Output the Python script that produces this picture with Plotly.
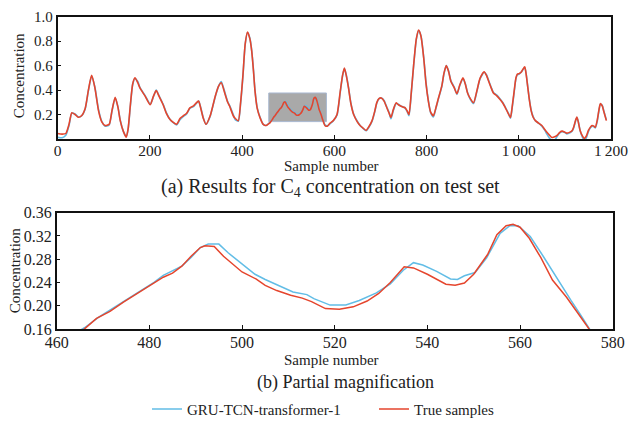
import plotly.graph_objects as go

# ---------------- data ----------------
true_samples = [0, 10, 18, 25, 31, 38, 45, 52, 60, 67, 74, 81, 89, 96, 103, 112, 118, 125, 131, 136,
                143, 149, 153, 158, 163, 168, 174, 179, 190, 201, 208, 214, 220, 229, 236, 244, 258, 266,
                273, 280, 287, 295, 302, 306, 310, 316, 322, 331, 342, 349, 355, 363, 369, 373, 381, 385,
                392, 397, 402, 407, 412, 417, 421, 425, 428, 433, 439, 446, 452, 458,
                460, 463, 466, 468.6, 471.5, 474.4, 477.3, 480, 483, 485, 487, 489, 491, 492, 494, 496,
                498, 500, 503, 505, 507.5, 510.5, 513, 515, 518, 521, 524, 527, 529.5, 532, 535, 537,
                540, 542, 544, 546, 548, 550, 553, 555, 557, 558.5, 560, 562, 564.5, 567, 570, 572.5,
                575, 578, 580,
                585, 591, 598, 606, 613, 618, 622, 626, 631, 636, 642, 650, 656, 662, 669, 675, 682, 688,
                692, 697, 702, 708, 714, 719, 723, 728, 734, 739, 744, 750, 754, 758, 762, 767, 772, 778,
                783, 788, 794, 799, 804, 809, 815, 820, 826, 833, 838, 843, 848, 853, 860, 866, 872, 879,
                884, 889, 895, 902, 909, 916, 925, 930, 935, 940, 945, 952, 960, 966, 971, 977, 982, 986,
                990, 994, 997, 1001, 1005, 1009, 1013, 1016, 1019, 1023, 1027, 1031, 1036, 1043, 1050,
                1056, 1061, 1067, 1072, 1078, 1083, 1089, 1094, 1099, 1104, 1111, 1116, 1119, 1123, 1126,
                1129, 1133, 1138, 1142, 1146, 1151, 1155, 1159, 1163, 1166, 1170, 1174, 1177, 1181, 1184,
                1187, 1190]
true_values = [0.045, 0.040, 0.045, 0.120, 0.215, 0.200, 0.178, 0.190, 0.250, 0.400, 0.520, 0.420, 0.230,
               0.140, 0.110, 0.120, 0.230, 0.340, 0.260, 0.150, 0.060, 0.015, 0.080, 0.280, 0.450, 0.500,
               0.460, 0.415, 0.350, 0.280, 0.350, 0.395, 0.350, 0.280, 0.210, 0.160, 0.120, 0.170, 0.190,
               0.210, 0.255, 0.270, 0.300, 0.310, 0.260, 0.170, 0.120, 0.190, 0.350, 0.430, 0.460, 0.370,
               0.300, 0.270, 0.190, 0.170, 0.150, 0.300, 0.520, 0.780, 0.875, 0.820, 0.720, 0.550, 0.400,
               0.250, 0.175, 0.120, 0.110, 0.125,
               0.130, 0.145, 0.160, 0.178, 0.190, 0.206, 0.221, 0.235, 0.249, 0.256, 0.268, 0.285, 0.300,
               0.303, 0.302, 0.285, 0.271, 0.258, 0.246, 0.235, 0.226, 0.218, 0.213, 0.207, 0.195, 0.194,
               0.198, 0.208, 0.221, 0.240, 0.267, 0.265, 0.254, 0.246, 0.237, 0.235, 0.239, 0.254, 0.288,
               0.322, 0.3375, 0.340, 0.335, 0.316, 0.2825, 0.244, 0.215, 0.187, 0.157, 0.125, 0.110,
               0.105, 0.130, 0.150, 0.200, 0.390, 0.520, 0.580, 0.520, 0.415, 0.290, 0.200, 0.140, 0.110,
               0.090, 0.070, 0.100, 0.150, 0.230, 0.295, 0.330, 0.335, 0.310, 0.255, 0.210, 0.176, 0.240,
               0.295, 0.280, 0.270, 0.260, 0.255, 0.230, 0.200, 0.380, 0.600, 0.820, 0.890, 0.840, 0.660,
               0.450, 0.310, 0.220, 0.190, 0.250, 0.335, 0.430, 0.540, 0.600, 0.550, 0.470, 0.420, 0.370,
               0.440, 0.500, 0.450, 0.376, 0.330, 0.296, 0.390, 0.495, 0.550, 0.520, 0.470, 0.420, 0.376,
               0.355, 0.320, 0.290, 0.255, 0.210, 0.176, 0.270, 0.390, 0.500, 0.530, 0.535, 0.545, 0.570,
               0.590, 0.530, 0.440, 0.320, 0.230, 0.180, 0.150, 0.130, 0.110, 0.080, 0.056, 0.030, 0.012,
               0.018, 0.030, 0.055, 0.064, 0.058, 0.048, 0.056, 0.070, 0.096, 0.150, 0.180, 0.140, 0.070,
               0.025, 0.005, 0.020, 0.070, 0.095, 0.110, 0.105, 0.096, 0.150, 0.240, 0.290, 0.270, 0.230,
               0.190, 0.150]

pred_samples = [0, 10, 18, 25, 31, 38, 45, 52, 60, 67, 74, 81, 89, 96, 103, 112, 118, 125, 131, 136,
                143, 149, 153, 158, 163, 168, 174, 179, 190, 201, 208, 214, 220, 229, 236, 244, 258, 266,
                273, 280, 287, 295, 302, 306, 310, 316, 322, 331, 342, 349, 355, 363, 369, 373, 381, 385,
                392, 397, 402, 407, 412, 417, 421, 425, 428, 433, 439, 446, 452, 458,
                460, 463, 466, 469, 472, 475, 478, 481, 483, 485.3, 487, 489, 491, 492.7, 495, 497, 499.6,
                502.8, 505, 507, 511, 514, 515.5, 519, 522.4, 525.3, 529, 532, 534.8, 537, 539, 542, 545,
                546.5, 548, 550.3, 552.8, 555.7, 557.8, 559.6, 562.2, 565, 568, 571, 573, 575, 578, 580,
                585, 591, 598, 606, 613, 618, 622, 626, 631, 636, 642, 650, 656, 662, 669, 675, 682, 688,
                692, 697, 702, 708, 714, 719, 723, 728, 734, 739, 744, 750, 754, 758, 762, 767, 772, 778,
                783, 788, 794, 799, 804, 809, 815, 820, 826, 833, 838, 843, 848, 853, 860, 866, 872, 879,
                884, 889, 895, 902, 909, 916, 925, 930, 935, 940, 945, 952, 960, 966, 971, 977, 982, 986,
                990, 994, 997, 1001, 1005, 1009, 1013, 1016, 1019, 1023, 1027, 1031, 1036, 1043, 1050,
                1056, 1061, 1067, 1072, 1078, 1083, 1089, 1094, 1099, 1104, 1111, 1116, 1119, 1123, 1126,
                1129, 1133, 1138, 1142, 1146, 1151, 1155, 1159, 1163, 1166, 1170, 1174, 1177, 1181, 1184,
                1187, 1190]
pred_values = [0.015, 0.010, 0.030, 0.110, 0.210, 0.205, 0.180, 0.188, 0.245, 0.395, 0.515, 0.425, 0.240,
               0.145, 0.105, 0.115, 0.225, 0.335, 0.265, 0.155, 0.060, 0.020, 0.075, 0.270, 0.445, 0.495,
               0.470, 0.420, 0.355, 0.285, 0.345, 0.400, 0.355, 0.285, 0.215, 0.160, 0.115, 0.160, 0.185,
               0.205, 0.250, 0.265, 0.295, 0.310, 0.265, 0.175, 0.120, 0.185, 0.345, 0.430, 0.470, 0.380,
               0.305, 0.275, 0.200, 0.160, 0.145, 0.290, 0.510, 0.775, 0.870, 0.825, 0.725, 0.560, 0.405,
               0.255, 0.180, 0.120, 0.110, 0.128,
               0.135, 0.148, 0.162, 0.180, 0.195, 0.210, 0.224, 0.240, 0.252, 0.261, 0.268, 0.283, 0.300,
               0.306, 0.306, 0.291, 0.274, 0.254, 0.245, 0.2375, 0.2235, 0.219, 0.212, 0.201, 0.201,
               0.209, 0.222, 0.2375, 0.261, 0.274, 0.270, 0.259, 0.246, 0.245, 0.2515, 0.257, 0.2825,
               0.3245, 0.3375, 0.3375, 0.319, 0.285, 0.246, 0.209, 0.185, 0.160, 0.130, 0.115,
               0.108, 0.125, 0.150, 0.195, 0.380, 0.515, 0.575, 0.525, 0.420, 0.295, 0.205, 0.145, 0.110,
               0.088, 0.068, 0.095, 0.145, 0.225, 0.290, 0.330, 0.335, 0.315, 0.260, 0.215, 0.165, 0.230,
               0.290, 0.285, 0.270, 0.262, 0.250, 0.225, 0.190, 0.370, 0.595, 0.815, 0.885, 0.845, 0.665,
               0.460, 0.315, 0.215, 0.180, 0.245, 0.330, 0.425, 0.535, 0.600, 0.555, 0.475, 0.425, 0.365,
               0.435, 0.495, 0.455, 0.380, 0.325, 0.290, 0.385, 0.490, 0.545, 0.525, 0.475, 0.425, 0.380,
               0.360, 0.325, 0.295, 0.260, 0.215, 0.170, 0.260, 0.380, 0.495, 0.525, 0.530, 0.545, 0.565,
               0.585, 0.535, 0.445, 0.325, 0.235, 0.185, 0.150, 0.130, 0.105, 0.075, 0.040, 0.005, -0.015,
               -0.010, 0.020, 0.050, 0.060, 0.055, 0.042, 0.050, 0.065, 0.090, 0.145, 0.175, 0.145, 0.070,
               0.015, -0.015, 0.005, 0.060, 0.090, 0.105, 0.100, 0.090, 0.140, 0.235, 0.285, 0.275, 0.235,
               0.195, 0.155]

top_xticks = [0, 200, 400, 600, 800, 1000, 1200]
top_xticklabels = ["0", "200", "400", "600", "800", "1\u2009000", "1\u2009200"]
top_yticks = [0.2, 0.4, 0.6, 0.8, 1.0]
top_yticklabels = ["0.2", "0.4", "0.6", "0.8", "1.0"]
bot_xticks = [460, 480, 500, 520, 540, 560, 580]
bot_yticks = [0.16, 0.20, 0.24, 0.28, 0.32, 0.36]
bot_yticklabels = ["0.16", "0.20", "0.24", "0.28", "0.32", "0.36"]
zoom_box = [458, 583, 0.142, 0.376]

pred_name = "GRU-TCN-transformer-1"
true_name = "True samples"

# ---------------- figure ----------------
W, H = 629, 426
BLUE = "#62bde6"
RED = "#e5452d"
FONT = "Liberation Serif"
TXT = "#222222"

fig = go.Figure()

fig.add_trace(go.Scatter(x=pred_samples, y=pred_values, mode="lines", line=dict(color=BLUE, width=1.6, shape="spline", smoothing=0.6),
                         xaxis="x", yaxis="y", showlegend=False, hoverinfo="skip"))
fig.add_trace(go.Scatter(x=true_samples, y=true_values, mode="lines", line=dict(color=RED, width=1.6, shape="spline", smoothing=0.6),
                         xaxis="x", yaxis="y", showlegend=False, hoverinfo="skip"))
fig.add_trace(go.Scatter(x=pred_samples, y=pred_values, mode="lines", name=pred_name, line=dict(color=BLUE, width=1.5),
                         xaxis="x2", yaxis="y2"))
fig.add_trace(go.Scatter(x=true_samples, y=true_values, mode="lines", name=true_name, line=dict(color=RED, width=1.5),
                         xaxis="x2", yaxis="y2"))

axis_common = dict(showgrid=False, zeroline=False, showline=True, linecolor="#111111", linewidth=1.5,
                   mirror=True, ticks="inside", ticklen=4, tickwidth=1.2, tickcolor="#111111",
                   automargin=False, ticklabeloverflow="allow",
                   tickfont=dict(family=FONT, size=16, color=TXT))

fig.update_layout(
    template="none",
    width=W, height=H, autosize=False,
    margin=dict(l=0, r=0, t=0, b=0, pad=0),
    paper_bgcolor="white", plot_bgcolor="white",
    xaxis=dict(axis_common, domain=[57.5 / W, 611 / W], range=[0, 1200], anchor="y",
               tickvals=top_xticks, ticktext=top_xticklabels, ticklabelstandoff=-3,
               tickfont=dict(family=FONT, size=15.5, color=TXT)),
    yaxis=dict(axis_common, domain=[1 - 142 / H, 1 - 17 / H], range=[0, 1.0], anchor="x",
               tickvals=top_yticks, ticktext=top_yticklabels, tickfont=dict(family=FONT, size=15, color=TXT)),
    xaxis2=dict(axis_common, domain=[56.7 / W, 612.7 / W], range=[460, 580], anchor="y2",
                tickvals=bot_xticks, ticklabelstandoff=-2),
    yaxis2=dict(axis_common, domain=[1 - 336 / H, 1 - 217.3 / H], range=[0.16, 0.36], anchor="x2",
                tickvals=bot_yticks, ticktext=bot_yticklabels, tickfont=dict(family=FONT, size=16, color=TXT)),
    legend=dict(orientation="h", x=147 / W, xanchor="left", y=1 - 418 / H, yanchor="middle",
                font=dict(family=FONT, size=15, color=TXT), bgcolor="rgba(0,0,0,0)", borderwidth=0,
                itemwidth=30, tracegroupgap=0, entrywidth=182, entrywidthmode="pixels"),
    shapes=[dict(type="rect", xref="x", yref="y", x0=zoom_box[0], x1=zoom_box[1], y0=zoom_box[2], y1=zoom_box[3],
                 fillcolor="#a9a9a9", line=dict(color="#a8b8d0", width=1), layer="below")],
)

def ann(text, xpx, ypx, size, angle=0):
    fig.add_annotation(text=text, x=xpx / W, y=1 - ypx / H, xref="paper", yref="paper",
                       showarrow=False, xanchor="center", yanchor="middle", textangle=angle,
                       font=dict(family=FONT, size=size, color=TXT))

ann("Sample number", 331, 170, 15)
ann("(a) Results for C<sub>4</sub> concentration on test set", 330, 192, 20)
ann("Concentration", 19, 78, 15, -90)
ann("Sample number", 331, 368, 15)
ann("(b) Partial magnification", 345, 391, 18)
ann("Concentration", 15, 277, 15, -90)

page_fix = ("var d=document.documentElement,b=document.body;"
            "d.style.margin='0';d.style.padding='0';d.style.overflow='hidden';"
            "b.style.margin='0';b.style.padding='0';b.style.overflow='hidden';")

fig.write_html("out.html", config={"displayModeBar": False}, post_script=page_fix)
